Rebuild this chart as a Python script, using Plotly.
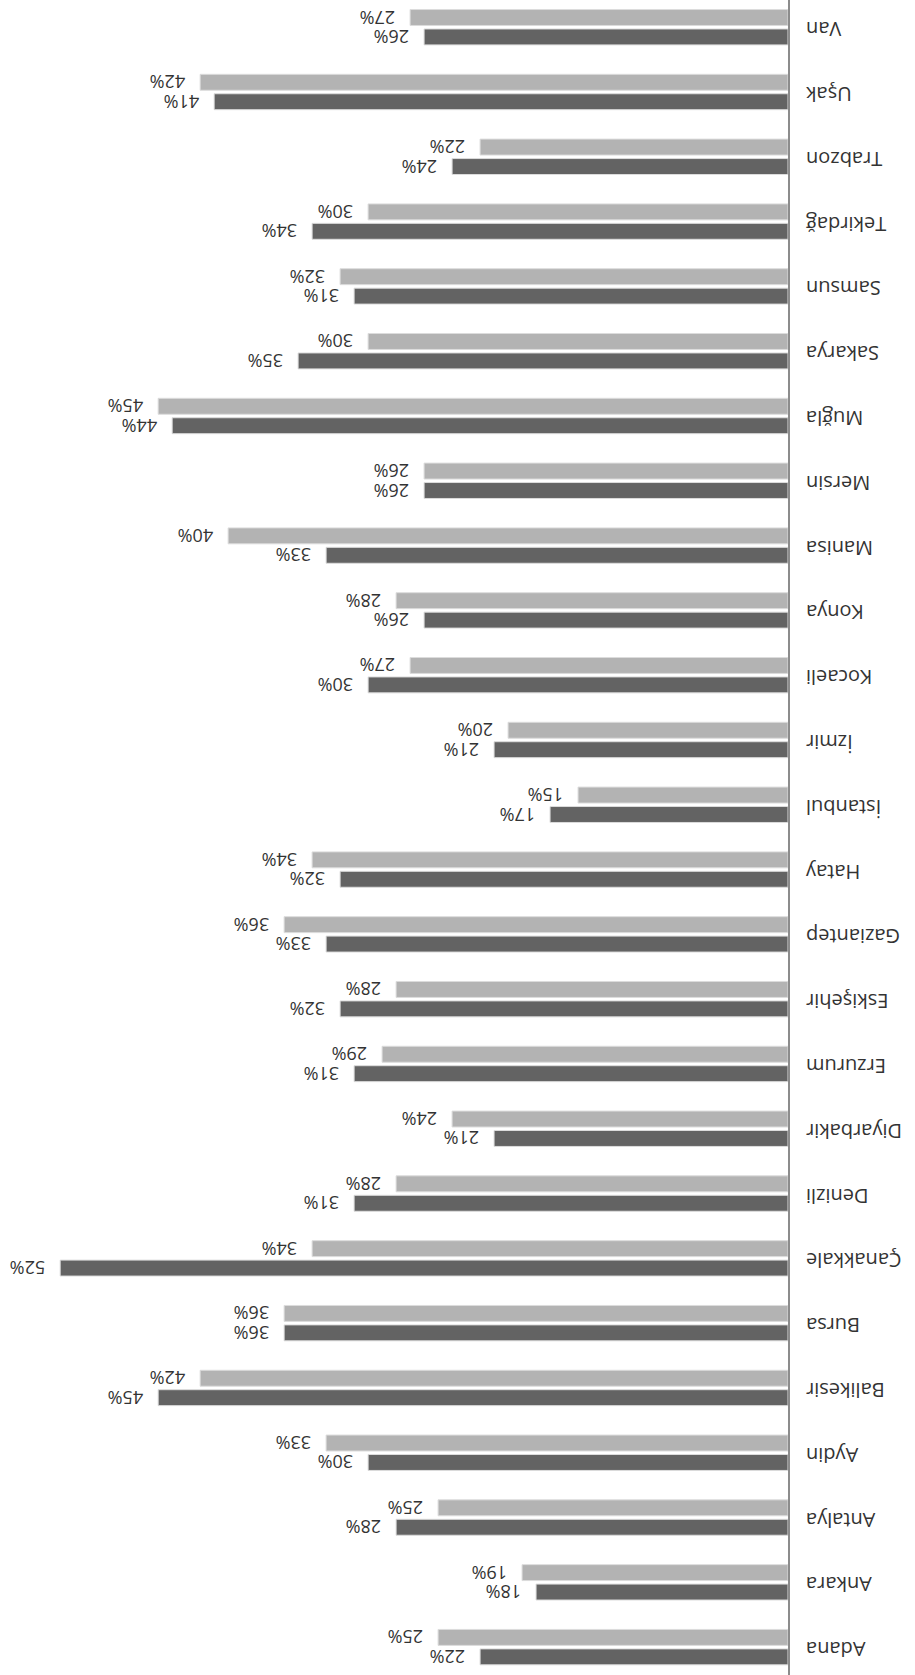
import plotly.graph_objects as go

cities = ["Adana", "Ankara", "Antalya", "Aydin", "Balikesir", "Bursa", "Çanakkale", "Denizli",
          "Diyarbakir", "Erzurum", "Eskişehir", "Gaziantep", "Hatay", "İstanbul", "İzmir", "Kocaeli",
          "Konya", "Manisa", "Mersin", "Muğla", "Sakarya", "Samsun", "Tekirdağ", "Trabzon", "Uşak", "Van"]
dark_vals = [22, 18, 28, 30, 45, 36, 52, 31, 21, 31, 32, 33, 32, 17, 21, 30, 26, 33, 26, 44, 35, 31, 34, 24, 41, 26]
light_vals = [25, 19, 25, 33, 42, 36, 34, 28, 24, 29, 28, 36, 34, 15, 20, 27, 28, 40, 26, 45, 30, 32, 30, 22, 42, 27]

DARK = "#636363"
LIGHT = "#b3b3b3"
TXT = "#333333"
FONT = "Open Sans"
PAD = "\u2002\u2009"

fig = go.Figure()
for vals, col in ((dark_vals, DARK), (light_vals, LIGHT)):
    fig.add_trace(go.Bar(
        y=cities, x=vals, orientation="h",
        marker=dict(color=col, line=dict(color="#dcdcdc", width=1)),
        text=[f"{PAD}{v}%" for v in vals], textposition="outside", textangle=180,
        constraintext="none",
        textfont=dict(family=FONT, size=18, color=TXT),
        cliponaxis=False, showlegend=False, hoverinfo="skip",
    ))

fig.update_layout(
    width=915, height=1675,
    margin=dict(l=0, r=127, t=0, b=0),
    paper_bgcolor="white", plot_bgcolor="white",
    barmode="group", bargap=0.4, bargroupgap=0.18,
    font=dict(family=FONT, color=TXT),
    xaxis=dict(range=[56.3, 0], visible=False, showgrid=False, zeroline=False),
    yaxis=dict(side="right", type="category", range=[-0.43, 25.42],
               showline=True, linecolor="#8c8c8c", linewidth=2,
               showgrid=False, zeroline=False, ticks="",
               tickangle=180, ticklabelposition="inside", ticklabelstandoff=-17,
               ticklabelshift=8,
               tickfont=dict(family=FONT, size=20, color=TXT)),
)

fig.write_html("out.html", config={"displayModeBar": False},
               post_script="document.body.style.margin='0';")
